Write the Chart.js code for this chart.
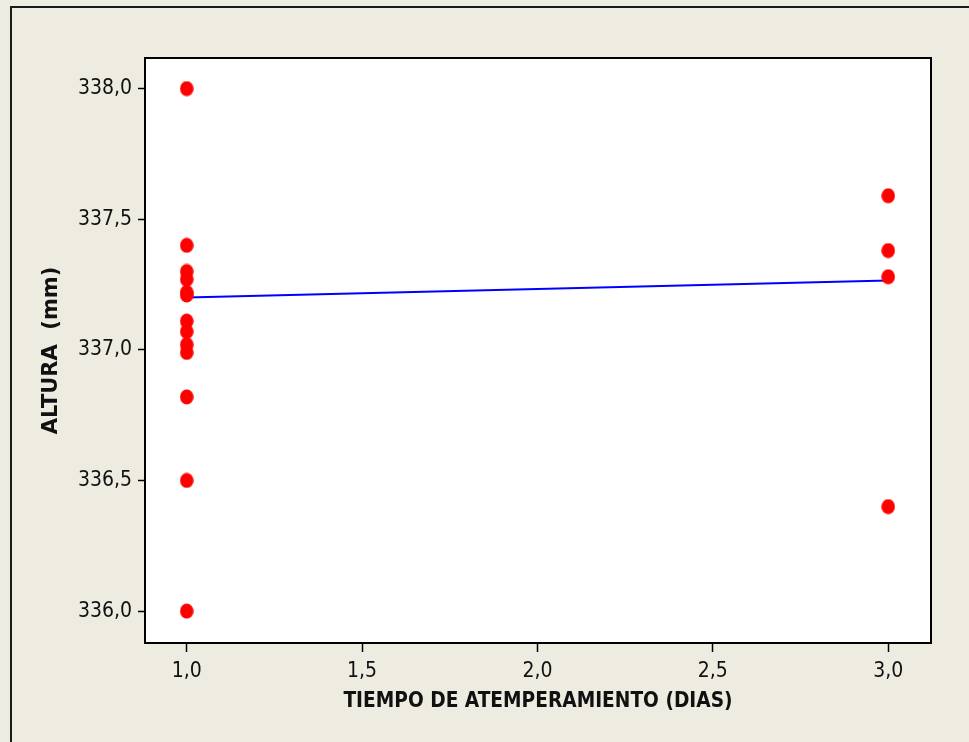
<!DOCTYPE html>
<html>
<head>
<meta charset="utf-8">
<script src="https://cdn.jsdelivr.net/npm/chart.js@4/dist/chart.umd.min.js"></script>
<style>
  html, body { margin: 0; padding: 0; background: #EEEBE1; }
  #wrap { width: 969px; height: 742px; position: relative; }
</style>
</head>
<body>
<div id="wrap"><canvas id="c" width="969" height="742"></canvas></div>
<script>
// Tempering time groups (days) and measured heights (mm)
const dayGroups = [1, 3];
const heightsDay1 = [338.0, 337.4, 337.3, 337.27, 337.22, 337.21, 337.11, 337.07, 337.02, 336.99, 336.82, 336.5, 336.0];
const heightsDay3 = [337.59, 337.38, 337.28, 336.4];
// Fitted line end points
const fitDays = [1, 3];
const fitHeights = [337.2, 337.265];
// Axis ticks
const xTicks = [1.0, 1.5, 2.0, 2.5, 3.0];
const yTicks = [336.0, 336.5, 337.0, 337.5, 338.0];

const FONT = '"DejaVu Sans Condensed", "DejaVu Sans", sans-serif';
const FONT_WIDE = '"DejaVu Sans", sans-serif';
const fmt = v => Number(v).toFixed(1).replace('.', ',');

// Slightly tall oval marker
function makeMarker() {
  const cv = document.createElement('canvas');
  cv.width = 14; cv.height = 16;
  const g = cv.getContext('2d');
  g.fillStyle = '#FF0000';
  g.beginPath();
  g.ellipse(7, 8, 6.8, 7.6, 0, 0, Math.PI * 2);
  g.fill();
  return cv;
}
const marker = makeMarker();

const points = []
  .concat(heightsDay1.map(h => ({ x: dayGroups[0], y: h })))
  .concat(heightsDay3.map(h => ({ x: dayGroups[1], y: h })));
const fitLine = fitDays.map((d, i) => ({ x: d, y: fitHeights[i] }));

const frame = {
  id: 'frame',
  beforeDraw(chart) {
    const { ctx, chartArea: a } = chart;
    ctx.save();
    ctx.fillStyle = '#EEEBE1';
    ctx.fillRect(0, 0, chart.width, chart.height);
    ctx.strokeStyle = '#1a1a1a';
    ctx.lineWidth = 2;
    ctx.beginPath();
    ctx.moveTo(11, chart.height);
    ctx.lineTo(11, 7);
    ctx.lineTo(chart.width, 7);
    ctx.stroke();
    ctx.fillStyle = '#FFFFFF';
    ctx.fillRect(a.left, a.top, a.right - a.left, a.bottom - a.top);
    ctx.restore();
  },
  afterDraw(chart) {
    const { ctx, chartArea: a } = chart;
    ctx.save();
    ctx.strokeStyle = '#000';
    ctx.lineWidth = 2;
    ctx.strokeRect(a.left, a.top, a.right - a.left, a.bottom - a.top);
    ctx.restore();
  }
};

new Chart(document.getElementById('c'), {
  type: 'scatter',
  data: {
    datasets: [
      {
        type: 'line',
        data: fitLine,
        borderColor: '#0000FF',
        borderWidth: 2,
        pointRadius: 0,
        fill: false,
        order: 2
      },
      {
        data: points,
        pointStyle: marker,
        pointRadius: 7,
        order: 1
      }
    ]
  },
  options: {
    responsive: false,
    animation: false,
    devicePixelRatio: 1,
    layout: { padding: { top: 58, right: 38, left: 0, bottom: 0 } },
    plugins: { legend: { display: false }, tooltip: { enabled: false } },
    scales: {
      x: {
        type: 'linear',
        min: 0.881,
        max: 3.122,
        afterBuildTicks: s => { s.ticks = xTicks.map(v => ({ value: v })); },
        afterFit: s => { s.height = 99; },
        ticks: {
          callback: v => fmt(v),
          color: '#111',
          font: { family: FONT, size: 21 },
          padding: 7,
          maxRotation: 0,
          autoSkip: false
        },
        grid: { drawOnChartArea: false, drawTicks: true, tickLength: 9, tickColor: '#000', tickWidth: 1.5 },
        border: { display: true, color: '#000', width: 2 },
        title: {
          display: true,
          text: 'TIEMPO DE ATEMPERAMIENTO (DIAS)',
          color: '#111',
          font: { family: FONT, size: 20.7, weight: 'bold' },
          padding: { top: 0, bottom: 28 }
        }
      },
      y: {
        type: 'linear',
        min: 335.878,
        max: 338.117,
        afterBuildTicks: s => { s.ticks = yTicks.map(v => ({ value: v })); },
        afterFit: s => { s.width = 145; },
        ticks: {
          callback: v => fmt(v),
          color: '#111',
          font: { family: FONT, size: 21 },
          padding: 6,
          autoSkip: false
        },
        grid: { drawOnChartArea: false, drawTicks: true, tickLength: 7, tickColor: '#000', tickWidth: 1.5 },
        border: { display: true, color: '#000', width: 2 },
        title: {
          display: true,
          text: 'ALTURA  (mm)',
          color: '#111',
          font: { family: FONT_WIDE, size: 21, weight: 'bold' },
          padding: { top: 39, bottom: 0 }
        }
      }
    }
  },
  plugins: [frame]
});
</script>
</body>
</html>
